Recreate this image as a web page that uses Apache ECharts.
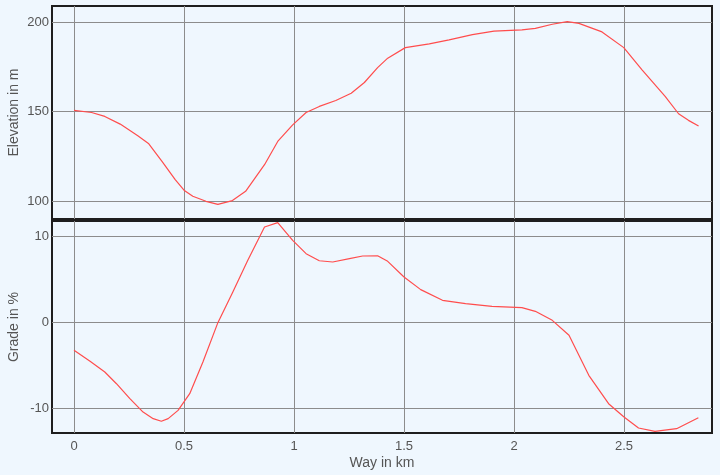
<!DOCTYPE html>
<html>
<head>
<meta charset="utf-8">
<script src="https://cdn.jsdelivr.net/npm/echarts@6/dist/echarts.min.js"></script>
<style>
html,body{margin:0;padding:0;background:#eff7fe;}
#main{width:720px;height:475px;}
</style>
</head>
<body>
<div id="main"></div>
<script>
// Elevation profile (km, m)
const elevKm = [0, 0.08, 0.14, 0.21, 0.29, 0.34, 0.40, 0.46, 0.50, 0.54, 0.60, 0.654, 0.72, 0.78, 0.866, 0.926, 0.994, 1.055, 1.115, 1.19, 1.26, 1.32, 1.38, 1.426, 1.506, 1.615, 1.705, 1.811, 1.909, 2.036, 2.097, 2.174, 2.242, 2.295, 2.40, 2.499, 2.582, 2.687, 2.748, 2.793, 2.839];
const elevM  = [150.7, 149.5, 147.3, 143.0, 136.5, 132.0, 122.2, 111.9, 106.0, 102.6, 99.8, 98.1, 100.2, 105.4, 120.3, 133.3, 142.6, 149.5, 152.9, 156.2, 160.3, 166.3, 174.6, 179.9, 185.8, 187.9, 190.1, 193.1, 195.0, 195.7, 196.6, 198.9, 200.4, 199.4, 194.6, 185.8, 173.4, 158.5, 148.8, 145.1, 141.9];
// Grade profile (km, %)
const gradeKm  = [0, 0.073, 0.14, 0.193, 0.254, 0.314, 0.36, 0.397, 0.428, 0.473, 0.526, 0.586, 0.654, 0.722, 0.79, 0.866, 0.926, 0.994, 1.055, 1.115, 1.176, 1.252, 1.312, 1.38, 1.426, 1.5, 1.576, 1.675, 1.78, 1.9, 2.036, 2.097, 2.174, 2.25, 2.34, 2.43, 2.5, 2.566, 2.641, 2.739, 2.838];
const gradePct = [-3.22, -4.5, -5.74, -7.1, -8.84, -10.4, -11.16, -11.47, -11.16, -10.2, -8.26, -4.57, 0, 3.57, 7.25, 11.12, 11.63, 9.57, 8.02, 7.2, 7.05, 7.44, 7.75, 7.78, 7.13, 5.31, 3.84, 2.6, 2.21, 1.9, 1.74, 1.32, 0.27, -1.47, -6.12, -9.42, -10.97, -12.25, -12.64, -12.33, -11.05];
// Tick labels
const xTicks = [0, 0.5, 1, 1.5, 2, 2.5];
const elevTicks = [100, 150, 200];
const gradeTicks = [-10, 0, 10];

const FONT = "'Liberation Sans', Arial, sans-serif";
const TXT = '#555';
const splitStyle = {show: true, lineStyle: {color: '#8c8c8c', width: 1}};

const chart = echarts.init(document.getElementById('main'), null, {renderer: 'canvas'});
chart.setOption({
  backgroundColor: '#eff7fe',
  animation: false,
  textStyle: {fontFamily: FONT},
  grid: [
    {left: 52, top: 6, width: 660, height: 213, containLabel: false, outerBoundsMode: 'none', show: true, borderColor: '#1e1e1e', borderWidth: 2, backgroundColor: 'transparent'},
    {left: 52, top: 221, width: 660, height: 212, containLabel: false, outerBoundsMode: 'none', show: true, borderColor: '#1e1e1e', borderWidth: 2, backgroundColor: 'transparent'}
  ],
  xAxis: [
    {gridIndex: 0, type: 'value', min: -0.1, max: 2.9,
     axisLine: {show: false}, axisTick: {show: false, customValues: xTicks},
     axisLabel: {show: false, customValues: xTicks}, splitLine: splitStyle},
    {gridIndex: 1, type: 'value', min: -0.1, max: 2.9,
     name: 'Way in km', nameLocation: 'middle', nameGap: 23, nameMoveOverlap: false,
     nameTextStyle: {color: TXT, fontSize: 14, fontFamily: FONT},
     axisLine: {show: false}, axisTick: {show: false, customValues: xTicks},
     axisLabel: {show: true, customValues: xTicks, color: TXT, fontSize: 13, margin: 7, fontFamily: FONT},
     splitLine: splitStyle}
  ],
  yAxis: [
    {gridIndex: 0, type: 'value', min: 89.9, max: 209.1,
     name: 'Elevation in m', nameLocation: 'middle', nameGap: 31, nameMoveOverlap: false,
     nameTextStyle: {color: TXT, fontSize: 14, fontFamily: FONT},
     axisLine: {show: false}, axisTick: {show: false, customValues: elevTicks},
     axisLabel: {customValues: elevTicks, color: TXT, fontSize: 13, margin: 3, fontFamily: FONT},
     splitLine: splitStyle},
    {gridIndex: 1, type: 'value', min: -12.83, max: 11.82,
     name: 'Grade in %', nameLocation: 'middle', nameGap: 31, nameMoveOverlap: false,
     nameTextStyle: {color: TXT, fontSize: 14, fontFamily: FONT},
     axisLine: {show: false}, axisTick: {show: false, customValues: gradeTicks},
     axisLabel: {customValues: gradeTicks, color: TXT, fontSize: 13, margin: 3, fontFamily: FONT},
     splitLine: splitStyle}
  ],
  series: [
    {type: 'line', xAxisIndex: 0, yAxisIndex: 0, showSymbol: false, symbol: 'none',
     lineStyle: {color: '#ff4d4d', width: 1.2},
     data: elevKm.map((k, i) => [k, elevM[i]])},
    {type: 'line', xAxisIndex: 1, yAxisIndex: 1, showSymbol: false, symbol: 'none',
     lineStyle: {color: '#ff4d4d', width: 1.2},
     data: gradeKm.map((k, i) => [k, gradePct[i]])}
  ]
});
</script>
</body>
</html>
